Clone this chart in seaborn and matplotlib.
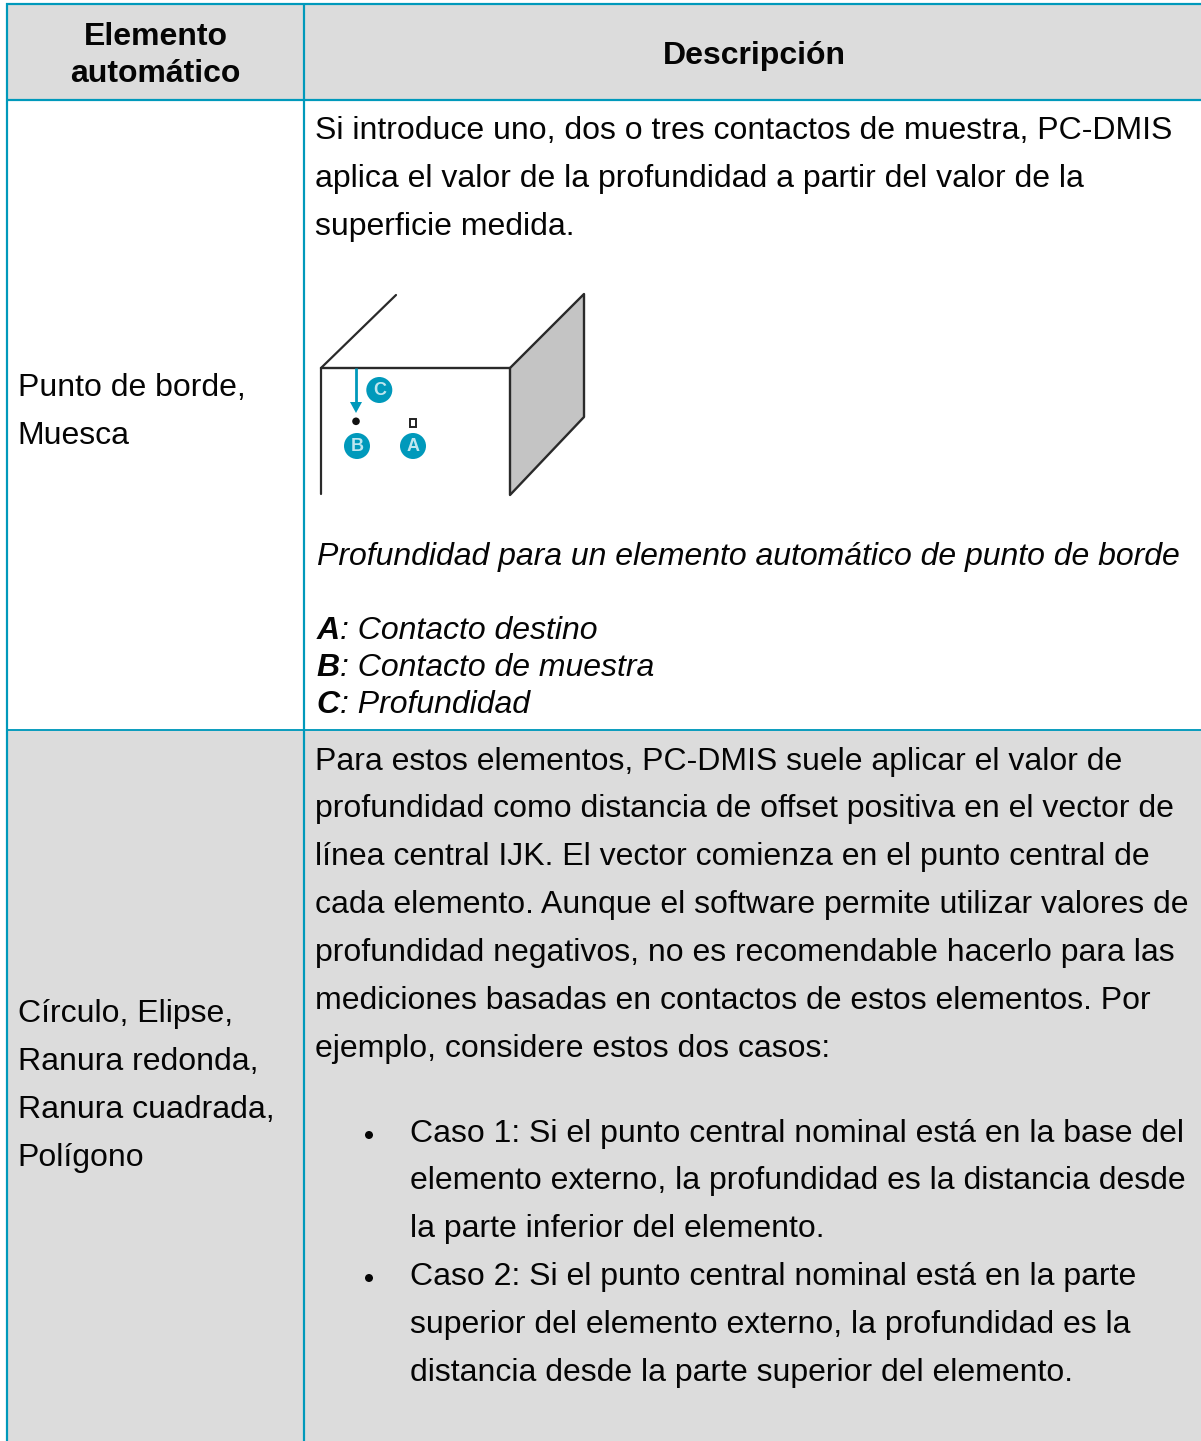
import matplotlib
matplotlib.use("Agg")
import matplotlib.pyplot as plt
from matplotlib.patches import Rectangle, Polygon, Circle
import seaborn as sns

sns.set_theme(style="white")
plt.rcParams['font.family'] = ['Liberation Sans', 'DejaVu Sans']

header_left = ["Elemento", "automático"]
header_right = "Descripción"
row1_left = ["Punto de borde,", "Muesca"]
row1_right = ["Si introduce uno, dos o tres contactos de muestra, PC-DMIS",
              "aplica el valor de la profundidad a partir del valor de la",
              "superficie medida."]
caption = "Profundidad para un elemento automático de punto de borde"
legend_keys = ["A", "B", "C"]
legend_vals = [": Contacto destino", ": Contacto de muestra", ": Profundidad"]
row2_left = ["Círculo, Elipse,", "Ranura redonda,", "Ranura cuadrada,", "Polígono"]
row2_right = ["Para estos elementos, PC-DMIS suele aplicar el valor de",
              "profundidad como distancia de offset positiva en el vector de",
              "línea central IJK. El vector comienza en el punto central de",
              "cada elemento. Aunque el software permite utilizar valores de",
              "profundidad negativos, no es recomendable hacerlo para las",
              "mediciones basadas en contactos de estos elementos. Por",
              "ejemplo, considere estos dos casos:"]
bullets = ["Caso 1: Si el punto central nominal está en la base del",
           "elemento externo, la profundidad es la distancia desde",
           "la parte inferior del elemento.",
           "Caso 2: Si el punto central nominal está en la parte",
           "superior del elemento externo, la profundidad es la",
           "distancia desde la parte superior del elemento."]

W, H = 1201, 1441
TEAL = "#0099BB"
GREY = "#DCDCDC"
INK = "#050505"
FS = 32 * 72 / 100

fig = plt.figure(figsize=(W / 100, H / 100), dpi=100, facecolor="white")
ax = fig.add_axes([0, 0, 1, 1])
ax.set_xlim(0, W)
ax.set_ylim(H, 0)
ax.axis("off")

# shaded rows
ax.add_patch(Rectangle((7, 4), W - 7, 96, fc=GREY, ec="none", zorder=0))
ax.add_patch(Rectangle((7, 730), W - 7, H - 730, fc=GREY, ec="none", zorder=0))

# rules
lw = 2.2 * 72 / 100
ax.plot([7, 7], [3, H], color=TEAL, lw=lw, solid_capstyle="butt")
ax.plot([304, 304], [3, H], color=TEAL, lw=lw, solid_capstyle="butt")
ax.plot([6, W], [4, 4], color=TEAL, lw=lw, solid_capstyle="butt")
ax.plot([6, W], [100, 100], color=TEAL, lw=lw, solid_capstyle="butt")
ax.plot([6, W], [730, 730], color=TEAL, lw=lw * 0.85, solid_capstyle="butt")


def put(x, y, s, **kw):
    kw.setdefault("color", INK)
    kw.setdefault("fontsize", FS)
    ax.text(x, y, s, va="baseline", **kw)


for y, s in zip([45, 82], header_left):
    put(155.5, y, s, ha="center", fontweight="bold")
put(754, 64, header_right, ha="center", fontweight="bold")

for y, s in zip([396, 444], row1_left):
    put(17.5, y, s)
for y, s in zip([139, 187, 235], row1_right):
    put(314.7, y, s)
put(317, 565, caption, fontstyle="italic")
for y, k, v in zip([639, 676, 713], legend_keys, legend_vals):
    put(316.5, y, k, fontstyle="italic", fontweight="bold")
    put(340, y, v, fontstyle="italic")

for y, s in zip([1022, 1070, 1118, 1166], row2_left):
    put(17.5, y, s)
for y, s in zip([770, 817, 865, 913, 961, 1009, 1057], row2_right):
    put(314.7, y, s)
for y, s in zip([1142, 1189, 1237, 1285, 1333, 1381], bullets):
    put(410, y, s)
for y in [1135, 1278]:
    ax.add_patch(Circle((369, y), 4, fc=INK, ec="none"))

# diagram
dk = "#2A2A2A"
ax.add_patch(Polygon([(510, 368), (584, 294), (584, 417), (510, 495)],
                     closed=True, fc="#C4C4C4", ec=dk, lw=1.7, joinstyle="round"))
ax.plot([396, 321, 321], [295, 368, 494], color=dk, lw=1.6, solid_joinstyle="miter")
ax.plot([321, 510], [368, 368], color=dk, lw=1.7)

ax.plot([356, 356], [368, 404], color=TEAL, lw=2.0, solid_capstyle="butt")
ax.add_patch(Polygon([(350, 402), (362, 402), (356, 413)], closed=True, fc=TEAL, ec="none"))
ax.add_patch(Circle((356, 421.3), 3.8, fc="#111111", ec="none"))
ax.add_patch(Rectangle((409.6, 419), 6, 8, fc="white", ec="#222222", lw=1.4))

for (cx, cy), k in zip([(379.3, 390), (357, 446), (413, 446)], ["C", "B", "A"]):
    ax.add_patch(Circle((cx, cy), 13, fc=TEAL, ec="none", zorder=3))
    ax.text(cx, cy + 0.5, k, ha="center", va="center", color="#BFE6EF",
            fontsize=13, fontweight="bold", zorder=4)

fig.savefig("out.png", dpi=100, facecolor="white")
